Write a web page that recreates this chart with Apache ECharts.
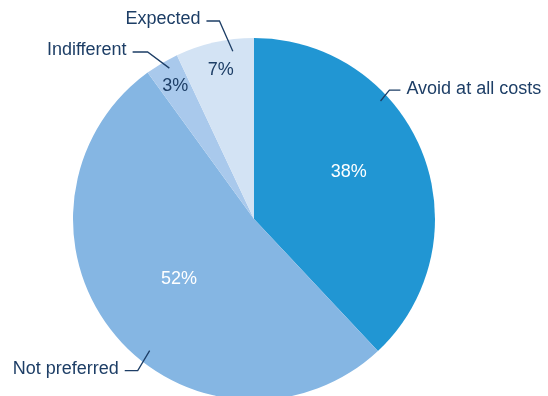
<!DOCTYPE html>
<html>
<head>
<meta charset="utf-8">
<script src="https://cdn.jsdelivr.net/npm/echarts@6/dist/echarts.min.js"></script>
<style>
  html, body { margin: 0; padding: 0; background: #fff; }
  #chart { width: 548px; height: 396px; }
</style>
</head>
<body>
<div id="chart"></div>
<script>
// slices clockwise from 12 o'clock
const categories = ["Avoid at all costs", "Not preferred", "Indifferent", "Expected"];
const shares = [38, 52, 3, 7];

const colors = ["#2196d3", "#85b6e3", "#a9c9ec", "#d3e3f4"];
const pctColors = ["#ffffff", "#ffffff", "#1d3e66", "#1d3e66"];
const textColor = "#1d3e66";

const CX = 254, CY = 219, R = 181;

// inside % labels: angle shift from the slice middle (deg) and radius fraction
const pctShift = [-5, 1, 0, 0];
const pctRadius = [0.585, 0.53, 0.855, 0.845];
// leader lines: start angle/radius, bend angle/radius (deg clockwise from top), tail length
const leaders = [
  { a0: 47, r0: 173, a1: 46.4, r1: 187, tail: 11 },
  { a0: 218.4, r0: 168, a1: 217.5, r1: 191, tail: 13 },
  { a0: -29.3, r0: 173, a1: -32.5, r1: 198, tail: 15 },
  { a0: -7.2, r0: 169, a1: -9.9, r1: 201, tail: 13 }
];

const total = shares.reduce((a, b) => a + b, 0);
const midAngles = [];
let acc = 0;
shares.forEach((v) => {
  midAngles.push((acc + v / 2) / total * 360);
  acc += v;
});

function polar(angleDeg, r) {
  const a = angleDeg * Math.PI / 180;
  return [CX + r * Math.sin(a), CY - r * Math.cos(a)];
}

const chart = echarts.init(document.getElementById("chart"));

chart.setOption({
  animation: false,
  textStyle: { fontFamily: "Liberation Sans, Arial, sans-serif" },
  series: [
    {
      type: "pie",
      center: [CX, CY],
      radius: [0, R],
      startAngle: 90,
      clockwise: true,
      silent: true,
      data: categories.map((name, i) => ({
        name: name,
        value: shares[i],
        itemStyle: { color: colors[i] },
        label: { color: pctColors[i] }
      })),
      itemStyle: { borderWidth: 0 },
      label: {
        show: true,
        position: "inside",
        formatter: "{c}%",
        fontSize: 18,
        fontFamily: "Liberation Sans, Arial, sans-serif"
      },
      labelLine: { show: false },
      labelLayout: function (p) {
        const i = p.dataIndex;
        const pt = polar(midAngles[i] + pctShift[i], R * pctRadius[i]);
        return { x: pt[0], y: pt[1], align: "center", verticalAlign: "middle" };
      }
    },
    {
      type: "pie",
      center: [CX, CY],
      radius: [0, R - 8],
      startAngle: 90,
      clockwise: true,
      silent: true,
      z: 3,
      data: categories.map((name, i) => ({ name: name, value: shares[i] })),
      itemStyle: { color: "transparent", borderWidth: 0 },
      label: {
        show: true,
        position: "outside",
        formatter: "{b}",
        color: textColor,
        fontSize: 18,
        overflow: "none",
        width: 200,
        fontFamily: "Liberation Sans, Arial, sans-serif"
      },
      labelLine: {
        show: true,
        length: 10,
        length2: 12,
        lineStyle: { color: textColor, width: 1.3 }
      },
      labelLayout: function (p) {
        const L = leaders[p.dataIndex];
        const p0 = polar(L.a0, L.r0);
        const p1 = polar(L.a1, L.r1);
        const side = Math.sin(L.a1 * Math.PI / 180) >= 0 ? 1 : -1;
        const x2 = p1[0] + side * L.tail;
        return {
          x: x2 + side * 6,
          y: p1[1] - 1.5,
          align: side > 0 ? "left" : "right",
          verticalAlign: "middle",
          labelLinePoints: [p0, p1, [x2, p1[1]]]
        };
      }
    }
  ]
});
</script>
</body>
</html>
